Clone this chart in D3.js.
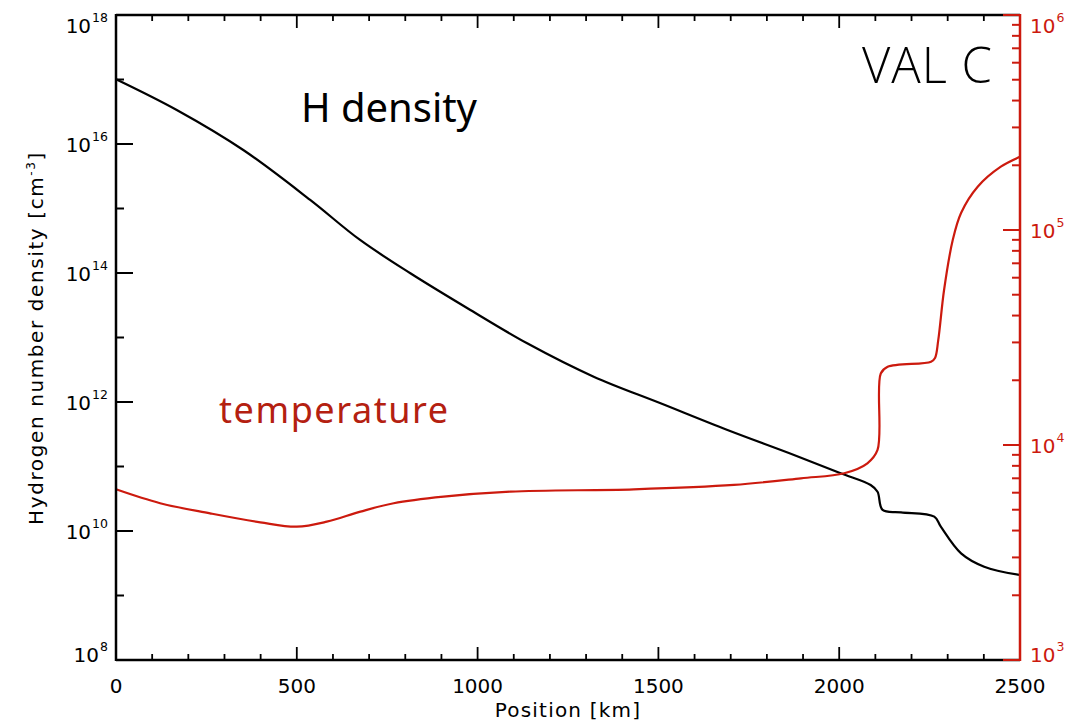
<!DOCTYPE html>
<html>
<head>
<meta charset="utf-8">
<script src="https://cdn.jsdelivr.net/npm/d3@7"></script>
<style>
  body { margin: 0; background: #fff; }
  #chart { width: 1091px; height: 725px; }
  .tick-label { font-family: "DejaVu Sans", sans-serif; font-size: 20px; }
</style>
</head>
<body>
<div id="chart"></div>
<script>
/* DATA */
const densPos = [0, 168, 352, 537, 675, 814, 980, 1137, 1321, 1506, 1691, 1875, 2004, 2087, 2106, 2120, 2171, 2263, 2281, 2337, 2401, 2500];
const densVal = [1.01e17, 3.37e16, 8.07e15, 1.36e15, 3.25e14, 9.9e13, 2.67e13, 8.13e12, 2.47e12, 9.55e11, 3.68e11, 1.51e11, 7.85e10, 5.16e10, 4.06e10, 2.12e10, 1.95e10, 1.67e10, 1.17e10, 4.51e9, 2.80e9, 2.08e9];

const tempPos = [0, 122, 260, 399, 500, 583, 676, 768, 906, 1091, 1432, 1709, 1894, 2014, 2078, 2106, 2115, 2134, 2254, 2265, 2274, 2290, 2314, 2337, 2383, 2447, 2500];
const tempVal = [6220, 5360, 4810, 4370, 4170, 4400, 4900, 5360, 5750, 6070, 6220, 6520, 7000, 7390, 8220, 9480, 21500, 23100, 24400, 25400, 30800, 52600, 89800, 120000, 159000, 197000, 219000];

const xTicks = [0, 500, 1000, 1500, 2000, 2500];
const densExp = [8, 10, 12, 14, 16, 18];
const tempExp = [3, 4, 5, 6];

/* DIMENSIONS */
const width = 1091, height = 725;
const margin = {top: 15, left: 116, right: 71, bottom: 65};
const red = "#cc1a0e";

const svg = d3.select("#chart")
    .append("svg")
    .attr("width", width)
    .attr("height", height);

/* SCALES */
const xScale = d3.scaleLinear()
    .domain([0, 2500])
    .range([margin.left, width - margin.right]);

const yScale = d3.scaleLog()
    .domain([1e8, 1e18])
    .range([height - margin.bottom, margin.top]);

const tScale = d3.scaleLog()
    .domain([1e3, 1e6])
    .range([height - margin.bottom, margin.top]);

const x0 = margin.left, x1 = width - margin.right;
const y0 = height - margin.bottom, y1 = margin.top;

/* CURVES */
const densLine = d3.line()
    .x(function(d, i) { return xScale(densPos[i]); })
    .y(function(d) { return yScale(d); })
    .curve(d3.curveCatmullRom.alpha(0.5));

const tempLine = d3.line()
    .x(function(d, i) { return xScale(tempPos[i]); })
    .y(function(d) { return tScale(d); })
    .curve(d3.curveCatmullRom.alpha(0.5));

svg.append("path")
    .attr("d", densLine(densVal))
    .attr("fill", "none")
    .attr("stroke", "#000")
    .attr("stroke-width", 2.2);

svg.append("path")
    .attr("d", tempLine(tempVal))
    .attr("fill", "none")
    .attr("stroke", red)
    .attr("stroke-width", 2.2);

/* FRAME: bottom, top, left in black */
const frame = svg.append("g").attr("stroke", "#000").attr("stroke-width", 2.5);
frame.append("line").attr("x1", x0).attr("x2", x1).attr("y1", y0).attr("y2", y0);
frame.append("line").attr("x1", x0).attr("x2", x1).attr("y1", y1).attr("y2", y1);
frame.append("line").attr("x1", x0).attr("x2", x0).attr("y1", y1 - 1).attr("y2", y0 + 1);

/* X TICKS (bottom up, top down) */
d3.range(0, 2501, 100).forEach(function(v) {
    const major = v % 500 === 0;
    const len = major ? 13 : 6;
    const x = xScale(v);
    frame.append("line").attr("x1", x).attr("x2", x).attr("y1", y0).attr("y2", y0 - len).attr("stroke-width", 1.8);
    frame.append("line").attr("x1", x).attr("x2", x).attr("y1", y1).attr("y2", y1 + len).attr("stroke-width", 1.8);
});

svg.selectAll(".xlab")
    .data(xTicks)
    .enter()
    .append("text")
        .attr("class", "tick-label")
        .attr("x", function(d) { return xScale(d); })
        .attr("y", 693)
        .attr("text-anchor", "middle")
        .text(function(d) { return d; });

/* LEFT AXIS TICKS, one per decade */
d3.range(8, 19).forEach(function(e) {
    const major = e % 2 === 0;
    const y = yScale(Math.pow(10, e));
    frame.append("line").attr("x1", x0).attr("x2", x0 + (major ? 17 : 8)).attr("y1", y).attr("y2", y).attr("stroke-width", 2);
});

function powerLabel(g, x, y, exp, anchorRight) {
    const cy = Math.min(Math.max(y, 25), 654);
    const t = g.append("text")
        .attr("class", "tick-label")
        .attr("x", x)
        .attr("y", cy + 8)
        .attr("text-anchor", anchorRight ? "end" : "start");
    t.append("tspan").text("10");
    t.append("tspan").attr("dy", -11).attr("dx", 1).attr("font-size", 12.5).text(exp);
    return t;
}

const leftLabels = svg.append("g").attr("fill", "#000");
densExp.forEach(function(e) {
    powerLabel(leftLabels, 108, yScale(Math.pow(10, e)), e, true);
});

/* RIGHT AXIS (temperature) in red */
const right = svg.append("g").attr("stroke", red).attr("stroke-width", 2);
right.append("line").attr("x1", x1).attr("x2", x1).attr("y1", y1 - 1).attr("y2", y0 + 1).attr("stroke-width", 2.5);
const tempTicks = [];
d3.range(3, 6).forEach(function(e) {
    d3.range(1, 10).forEach(function(m) { tempTicks.push(m * Math.pow(10, e)); });
});
tempTicks.push(1e6);
tempTicks.forEach(function(v) {
    const major = Math.abs(Math.log10(v) - Math.round(Math.log10(v))) < 1e-9;
    const y = tScale(v);
    right.append("line").attr("x1", x1).attr("x2", x1 - (major ? 17 : 8)).attr("y1", y).attr("y2", y);
});

const rightLabels = svg.append("g").attr("fill", red);
tempExp.forEach(function(e) {
    powerLabel(rightLabels, 1030, tScale(Math.pow(10, e)), e, false);
});

/* AXIS TITLES */
svg.append("text")
    .attr("class", "tick-label")
    .attr("x", (x0 + x1) / 2)
    .attr("y", 717)
    .attr("text-anchor", "middle")
    .attr("letter-spacing", 1.2)
    .text("Position [km]");

const yTitle = svg.append("text")
    .attr("class", "tick-label")
    .attr("transform", "translate(43,338) rotate(-90)")
    .attr("text-anchor", "middle")
    .attr("font-size", 18)
    .attr("letter-spacing", 1.6);
yTitle.append("tspan").text("Hydrogen number density [cm");
yTitle.append("tspan").attr("dy", -8).attr("font-size", 12).text("-3");
yTitle.append("tspan").attr("dy", 8).text("]");

/* ANNOTATIONS */
svg.append("text")
    .attr("x", 862)
    .attr("y", 83)
    .attr("font-family", "'Open Sans', Lato, sans-serif")
    .attr("font-weight", 300)
    .attr("font-size", 49)
    .attr("textLength", 130)
    .attr("fill", "#000")
    .text("VAL C");

svg.append("text")
    .attr("x", 301)
    .attr("y", 122)
    .attr("font-family", "'Comic Sans MS', 'Noto Sans', sans-serif")
    .attr("font-size", 40)
    .attr("textLength", 176)
    .attr("fill", "#000")
    .text("H density");

svg.append("text")
    .attr("x", 219)
    .attr("y", 423)
    .attr("font-family", "'Comic Sans MS', 'Noto Sans', sans-serif")
    .attr("font-size", 36)
    .attr("textLength", 229)
    .attr("fill", "#b42010")
    .text("temperature");
</script>
</body>
</html>
